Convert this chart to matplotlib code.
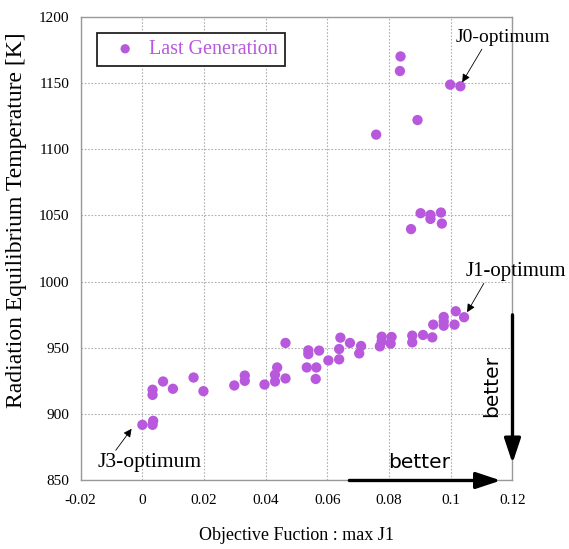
import matplotlib
matplotlib.use("Agg")
import matplotlib.pyplot as plt

# Data
j1 = [0.0, 0.0035, 0.0033, 0.0033, 0.0033, 0.0067, 0.0099, 0.0166, 0.0198,
      0.0298, 0.0332, 0.0332, 0.0396, 0.0437, 0.0430, 0.0430, 0.0464, 0.0464,
      0.0538, 0.0538, 0.0573, 0.0533, 0.0564, 0.0562, 0.0603, 0.0638, 0.0638,
      0.0642, 0.0673, 0.0709, 0.0703, 0.0776, 0.0776, 0.0770, 0.0808, 0.0805,
      0.0875, 0.0875, 0.0910, 0.0940, 0.0943, 0.0977, 0.0977, 0.0977, 0.1012,
      0.1016, 0.1043,
      0.0871, 0.0902, 0.0934, 0.0934, 0.0968, 0.0971,
      0.0758, 0.0892, 0.0837, 0.0835, 0.0998, 0.1031]
temp = [892, 895, 892, 918.5, 914.6, 924.7, 919.2, 927.7, 917.4,
        921.7, 929.2, 925.2, 922.4, 935.3, 929.8, 924.7, 927, 953.8,
        948.2, 945.4, 948, 935.3, 935.3, 926.6, 940.6, 941.4, 949.2,
        957.8, 953.8, 951.5, 945.9, 958.5, 955, 951.2, 958.3, 953.3,
        959.3, 954.2, 959.8, 958, 967.6, 973.4, 970, 966.8, 967.6,
        977.7, 973.2,
        1039.7, 1051.7, 1050.4, 1047.4, 1052.2, 1043.9,
        1111, 1122, 1170, 1159, 1148.7, 1147.5]

x_ticks = [-0.02, 0, 0.02, 0.04, 0.06, 0.08, 0.1, 0.12]
x_tick_labels = ["-0.02", "0", "0.02", "0.04", "0.06", "0.08", "0.1", "0.12"]
y_ticks = [850, 900, 950, 1000, 1050, 1100, 1150, 1200]

purple = "#b858dc"
serif = ["Liberation Serif", "DejaVu Serif"]

fig = plt.figure(figsize=(5.69, 5.49), dpi=100)
ax = fig.add_axes([0.1418, 0.1248, 0.7589, 0.8448])

ax.scatter(j1, temp, s=55, color=purple, edgecolors="none", zorder=3,
           label="Last Generation", clip_on=False)

ax.set_xlim(-0.02, 0.12)
ax.set_ylim(850, 1200)
ax.set_xticks(x_ticks)
ax.set_xticklabels(x_tick_labels, fontfamily=serif, fontsize=11)
ax.set_yticks(y_ticks)
ax.set_yticklabels([str(v) for v in y_ticks], fontfamily=serif, fontsize=11)
ax.tick_params(length=0)
ax.tick_params(axis="x", pad=10)
ax.tick_params(axis="y", pad=8)
ax.grid(True, color="#b0b0b0", linestyle=(0, (1.5, 1.5)), linewidth=0.8)
for s in ax.spines.values():
    s.set_color("#999999")
    s.set_linewidth(1.0)

ax.set_xlabel("Objective Fuction : max J1", fontfamily=serif, fontsize=13, labelpad=14)
ax.set_ylabel("Radiation Equilibrium Temperature [K]", fontfamily=serif, fontsize=17)
ax.yaxis.set_label_coords(-0.124, 0.562)

leg = ax.legend(loc="upper left", bbox_to_anchor=(0.0377, 0.965), borderaxespad=0,
                fancybox=False, edgecolor="#222222", framealpha=1,
                prop={"family": serif, "size": 14.5}, labelcolor=purple,
                handletextpad=0.15, borderpad=0.35, handlelength=2.1,
                markerscale=0.9)
leg.get_frame().set_linewidth(1.3)

arrowprops = dict(arrowstyle="-|>", color="black", lw=0.6, mutation_scale=12,
                  shrinkA=0, shrinkB=0)
ax.annotate("J0-optimum", xy=(0.1037, 1150.5), xytext=(0.1014, 1184),
            fontfamily=serif, fontsize=14, ha="left", va="center",
            annotation_clip=False,
            arrowprops=dict(arrowprops, relpos=(0.3, 0)))
ax.annotate("J1-optimum", xy=(0.1053, 977), xytext=(0.1047, 1008),
            fontfamily=serif, fontsize=15, ha="left", va="center",
            annotation_clip=False,
            arrowprops=dict(arrowprops, relpos=(0.2, 0)))
ax.annotate("J3-optimum", xy=(-0.0035, 889), xytext=(-0.0147, 863.5),
            fontfamily=serif, fontsize=15.5, ha="left", va="center",
            annotation_clip=False,
            arrowprops=dict(arrowprops, relpos=(0.16, 1)))

# "better" arrows
head = "-|>,head_length=1.5,head_width=0.5"
ax.annotate("", xy=(0.1162, 850), xytext=(0.0671, 850), annotation_clip=False,
            arrowprops=dict(arrowstyle=head, color="black", lw=2.4,
                            shrinkA=0, shrinkB=0))
ax.annotate("", xy=(0.12, 863), xytext=(0.12, 975), annotation_clip=False,
            arrowprops=dict(arrowstyle=head, color="black", lw=2.4,
                            shrinkA=0, shrinkB=0))
ax.text(0.0897, 863.6, "better", fontfamily="DejaVu Sans", fontsize=14.5,
        ha="center", va="center")
ax.text(0.1132, 921.5, "better", fontfamily="DejaVu Sans", fontsize=14.5,
        ha="center", va="center", rotation=90)

fig.savefig("out.png", dpi=100)
